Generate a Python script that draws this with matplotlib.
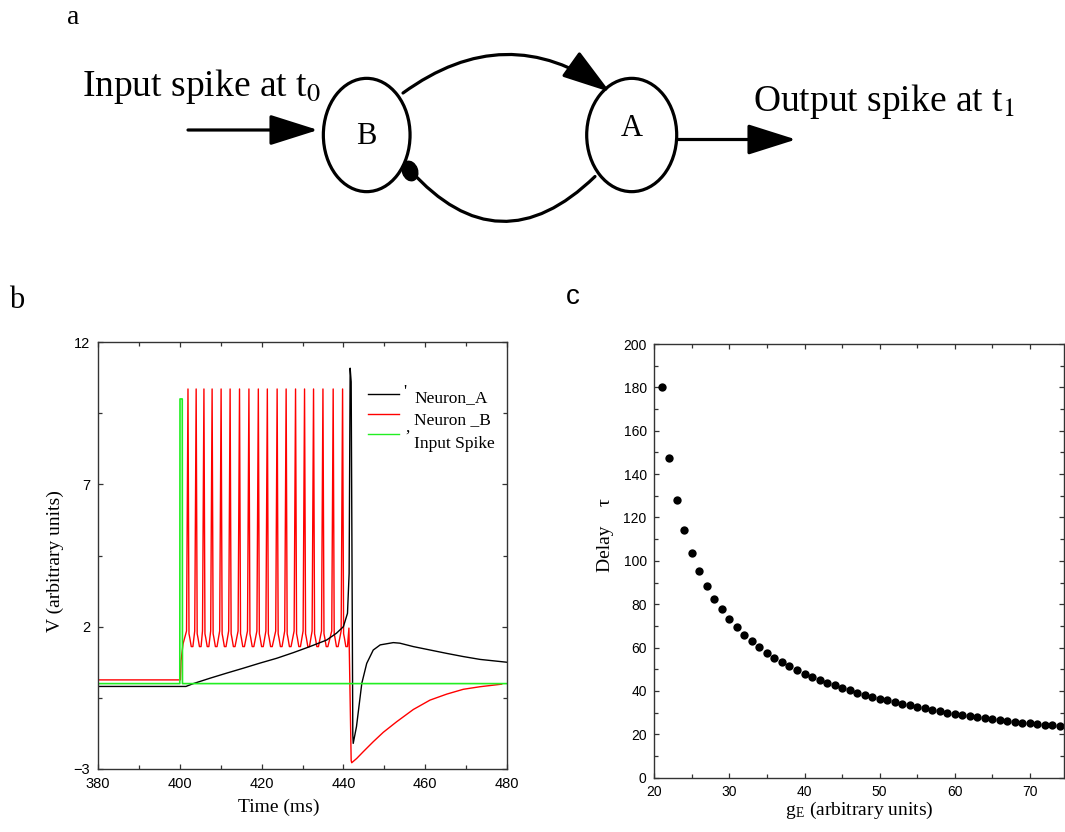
import matplotlib
matplotlib.use("Agg")
import matplotlib.pyplot as plt
from matplotlib.patches import Ellipse, FancyArrowPatch
from matplotlib.lines import Line2D
from matplotlib.ticker import MultipleLocator, FixedLocator

plt.rcParams['font.family'] = ['Liberation Sans', 'DejaVu Sans']
plt.rcParams['mathtext.fontset'] = 'stix'
SERIF = ['Liberation Serif', 'DejaVu Serif']

# ---------------- data ----------------
# panel a (diagram texts)
node_labels = ["B", "A"]
input_text = "Input spike at t$_0$"
output_text = "Output spike at t$_1$"

# panel b : membrane traces
input_t = [380, 400.0, 400.05, 400.6, 400.65, 480]
input_v = [0.0, 0.0, 10.0, 10.0, 0.0, 0.0]

neuronA_t = [380, 401.5, 403.3, 407.4, 411.5, 415.5, 419.6, 423.7, 427.8, 431.8,
             435.9, 438.3, 440.0, 441.0, 441.4, 441.65, 441.9, 442.3, 442.4,
             443.2, 444.5, 445.7, 447.3, 449.0, 452.2, 453.8, 457.1, 461.2,
             465.3, 469.3, 473.4, 480]
neuronA_v = [-0.1, -0.1, 0.0, 0.19, 0.37, 0.54, 0.72, 0.89, 1.09, 1.30,
             1.53, 1.77, 2.0, 2.47, 3.87, 11.08, 10.6, -1.8, -2.1,
             -1.51, 0.01, 0.71, 1.18, 1.36, 1.44, 1.42, 1.30, 1.18,
             1.06, 0.95, 0.85, 0.75]

neuronB_pre_t = [380, 400.15, 400.3, 400.8, 401.65]
neuronB_pre_v = [0.13, 0.13, 0.8, 1.4, 1.85]
neuronB_spike_times = [402.0, 404.0, 405.9, 407.9, 410.1, 412.3, 414.6, 416.9,
                       419.2, 421.4, 423.8, 426.0, 428.3, 430.5, 432.7, 435.0,
                       437.5, 439.8]
neuronB_upstroke = (-0.35, 1.85)
neuronB_shape_dt = [0.0, 0.25, 0.45, 0.8, 1.2]
neuronB_shape_v = [10.35, 1.75, 1.6, 1.3, 1.3]
neuronB_post_t = [441.35, 441.9, 442.03, 443.25, 444.87, 447.31, 449.76, 453.02,
                  457.09, 461.17, 465.25, 469.32, 473.4, 478.7]
neuronB_post_v = [1.95, -2.7, -2.78, -2.63, -2.39, -2.04, -1.71, -1.34,
                  -0.91, -0.58, -0.37, -0.20, -0.11, -0.02]

legend_labels = ["Neuron_A", "Neuron _B", "Input Spike"]
legend_colors = ["#000000", "#ff0000", "#22ee22"]

# panel c : delay vs excitatory conductance
gE = list(range(21, 75))
delay = [180, 147.5, 128, 114, 103.5, 95.3, 88.4, 82.4, 77.7, 73.3,
         69.4, 65.8, 62.9, 60.3, 57.7, 55.4, 53.4, 51.4, 49.7, 48.0,
         46.6, 45.2, 43.8, 42.6, 41.5, 40.3, 39.2, 38.3, 37.4, 36.4,
         35.7, 34.8, 34.1, 33.4, 32.7, 32.0, 31.4, 30.6, 30.0, 29.5,
         29.1, 28.5, 28.0, 27.5, 27.1, 26.6, 26.2, 25.8, 25.4, 25.1,
         24.8, 24.5, 24.2, 23.8]

# ---------------- figure ----------------
W, H = 1065, 832
fig = plt.figure(figsize=(W / 100, H / 100), dpi=100)


def fx(px):
    return px / W


def fy(py):
    return 1 - py / H


# ---- panel a : diagram (pixel-like coordinates) ----
ax_a = fig.add_axes([0, 1 - 260 / H, 1, 260 / H])
ax_a.set_xlim(0, W)
ax_a.set_ylim(260, 0)
ax_a.axis('off')
LW = 2.3
ax_a.add_patch(Ellipse((366.7, 135), 86.7, 113.3, fill=False, lw=LW, ec='k'))
ax_a.add_patch(Ellipse((631.7, 135), 90, 113.3, fill=False, lw=LW, ec='k'))
ax_a.text(366.7, 137, node_labels[0], fontsize=22, family=SERIF, ha='center', va='center')
ax_a.text(631.7, 129, node_labels[1], fontsize=22, family=SERIF, ha='center', va='center')

head = "-|>,head_length=3.0,head_width=0.95"
ax_a.add_patch(FancyArrowPatch((188, 130), (318, 130), arrowstyle=head, mutation_scale=10,
                               lw=LW, color='k', shrinkA=0, shrinkB=0))
ax_a.add_patch(FancyArrowPatch((677, 139.5), (796, 139.5), arrowstyle=head, mutation_scale=10,
                               lw=LW, color='k', shrinkA=0, shrinkB=0))
ax_a.add_patch(FancyArrowPatch((403, 93), (610, 92), arrowstyle=head, mutation_scale=10,
                               connectionstyle="arc3,rad=-0.36",
                               lw=LW, color='k', shrinkA=0, shrinkB=0))
ax_a.add_patch(FancyArrowPatch((410, 170), (595, 176.5), arrowstyle='-', mutation_scale=10,
                               connectionstyle="arc3,rad=0.52",
                               lw=LW, color='k', shrinkA=0, shrinkB=0))
ax_a.add_patch(Ellipse((410, 171), 15, 20, angle=-20, color='k'))
ax_a.text(82, 96, input_text, fontsize=27, family=SERIF, ha='left', va='baseline')
ax_a.text(753, 111, output_text, fontsize=27, family=SERIF, ha='left', va='baseline')

# ---- panel labels ----
fig.text(fx(73), fy(24), "a", fontsize=20, family=SERIF, ha='center', va='baseline')
fig.text(fx(17), fy(301), "b", fontsize=22, family=SERIF, ha='center', va='center')
fig.text(fx(573), fy(297), "c", fontsize=20, ha='center', va='center')

SPINE = '#333333'


def style_axes(ax, size):
    for s in ax.spines.values():
        s.set_color(SPINE)
        s.set_linewidth(1.0)
    ax.tick_params(which='both', direction='in', top=True, right=True,
                   colors=SPINE, labelcolor='black', labelsize=size, pad=5.5)
    ax.tick_params(which='major', length=3.5, width=0.9)
    ax.tick_params(which='minor', length=3.0, width=0.9)


# ---- panel b ----
ax_b = fig.add_axes([fx(98), fy(769), (507 - 98) / W, (769 - 342) / H])
bt = list(neuronB_pre_t)
bv = list(neuronB_pre_v)
for i, tp in enumerate(neuronB_spike_times):
    if i > 0:
        bt.append(tp + neuronB_upstroke[0])
        bv.append(neuronB_upstroke[1])
    for dt, v in zip(neuronB_shape_dt, neuronB_shape_v):
        bt.append(tp + dt)
        bv.append(v)
bt += neuronB_post_t
bv += neuronB_post_v

ax_b.plot(bt, bv, color=legend_colors[1], lw=1.0)
ax_b.plot(neuronA_t, neuronA_v, color=legend_colors[0], lw=1.0)
ax_b.plot(input_t, input_v, color=legend_colors[2], lw=1.2)
ax_b.set_xlim(380, 480)
ax_b.set_ylim(-3, 12)
ax_b.xaxis.set_major_locator(MultipleLocator(20))
ax_b.xaxis.set_minor_locator(MultipleLocator(10))
ax_b.yaxis.set_major_locator(FixedLocator([-3, 2, 7, 12]))
ax_b.yaxis.set_minor_locator(FixedLocator([-0.5, 4.5, 9.5]))
style_axes(ax_b, 10.5)
ax_b.set_xlabel("Time (ms)", fontsize=14, family=SERIF)
ax_b.xaxis.set_label_coords((279 - 98) / 409, -(799 - 769) / 427)
ax_b.set_ylabel("V (arbitrary units)", fontsize=14, family=SERIF)
ax_b.yaxis.set_label_coords((64 - 98) / 409, (769 - 561) / 427)

# manual legend (as in the original, labels slightly offset)
rows_line = [0.8775, 0.8307, 0.7838]
rows_text = [0.8696, 0.8173, 0.7604]
for c, yl, yt, lab in zip(legend_colors, rows_line, rows_text, legend_labels):
    ax_b.add_line(Line2D([0.661, 0.736], [yl, yl], color=c, lw=1.0, transform=ax_b.transAxes))
    ax_b.text(0.7726, yt, lab, fontsize=12.5, family=SERIF, ha='left', va='center',
              transform=ax_b.transAxes)
ax_b.text(0.7499, 0.8836, "'", fontsize=12.5, family=SERIF, ha='center', va='center',
          transform=ax_b.transAxes)
ax_b.text(0.7572, 0.8005, ",", fontsize=12.5, family=SERIF, ha='center', va='center',
          transform=ax_b.transAxes)

# ---- panel c ----
ax_c = fig.add_axes([fx(654.3), fy(777.7), (1064 - 654.3) / W, (777.7 - 344) / H])
ax_c.plot(gE, delay, 'o', color='black', ms=6, mew=0)
ax_c.set_xlim(20, 74.55)
ax_c.set_ylim(0, 200)
ax_c.xaxis.set_major_locator(MultipleLocator(10))
ax_c.xaxis.set_minor_locator(MultipleLocator(5))
ax_c.yaxis.set_major_locator(MultipleLocator(20))
ax_c.yaxis.set_minor_locator(MultipleLocator(10))
style_axes(ax_c, 10)
ax_c.set_xlabel(r"g$_\mathregular{E}$ (arbitrary units)", fontsize=14, family=SERIF)
ax_c.xaxis.set_label_coords(0.5, -(800 - 777.7) / 433.7)
ax_c.text((606 - 654.3) / 409.7, (777.7 - 535.5) / 433.7, "Delay    \u03c4", fontsize=14,
          family=SERIF, rotation=90, ha='center', va='center', transform=ax_c.transAxes)

fig.savefig("out.png", dpi=100)
